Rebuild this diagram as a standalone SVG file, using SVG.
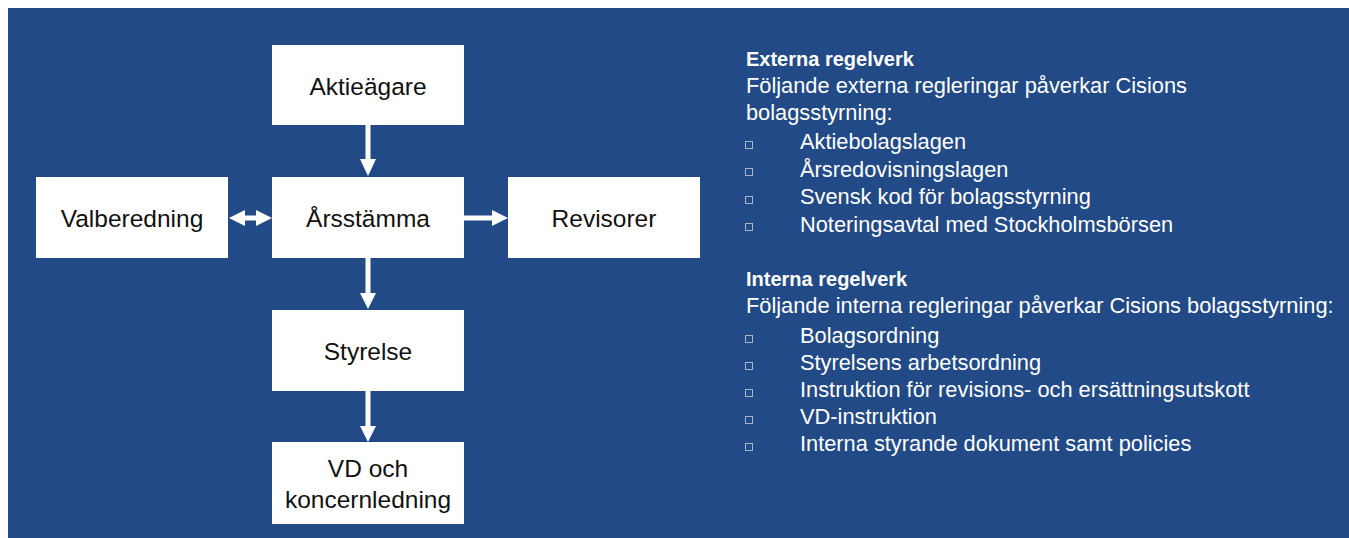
<svg xmlns="http://www.w3.org/2000/svg" width="1349" height="538" viewBox="0 0 1349 538">
  <style>
    .box { fill: #ffffff; }
    .lbl { font-family: "Liberation Sans", Arial, sans-serif; font-size: 24.5px; fill: #111111; text-anchor: middle; }
    .arrow { fill: #ffffff; }
    .hdr { font-family: "Liberation Sans", Arial, sans-serif; font-size: 20px; font-weight: bold; fill: #ffffff; }
    .txt { font-family: "Liberation Sans", Arial, sans-serif; font-size: 21.8px; fill: #ffffff; }
    .bul { fill: none; stroke: #aab5cc; stroke-width: 1; }
  </style>
  <rect x="8" y="8" width="1341" height="530" fill="#214a86"/>

  <g id="connectors">
    <!-- Aktieägare -> Årsstämma -->
    <rect class="arrow" x="365.5" y="125" width="5" height="35"/>
    <polygon class="arrow" points="360,159 376,159 368,176"/>
    <!-- Årsstämma -> Styrelse -->
    <rect class="arrow" x="365.5" y="258" width="5" height="36"/>
    <polygon class="arrow" points="360,293 376,293 368,309"/>
    <!-- Styrelse -> VD -->
    <rect class="arrow" x="365.5" y="391" width="5" height="36"/>
    <polygon class="arrow" points="360,426 376,426 368,442"/>
    <!-- Valberedning <-> Årsstämma -->
    <rect class="arrow" x="244" y="215.5" width="13" height="5"/>
    <polygon class="arrow" points="229,218 245,210 245,226"/>
    <polygon class="arrow" points="272,218 256,210 256,226"/>
    <!-- Årsstämma -> Revisorer -->
    <rect class="arrow" x="464" y="215.5" width="29" height="5"/>
    <polygon class="arrow" points="492,210 492,226 508,218"/>
  </g>

  <g id="node-aktieagare">
    <rect class="box" x="272" y="45" width="192" height="80"/>
    <text class="lbl" x="368" y="95">Aktieägare</text>
  </g>
  <g id="node-arsstamma">
    <rect class="box" x="272" y="177" width="192" height="81"/>
    <text class="lbl" x="368" y="227">Årsstämma</text>
  </g>
  <g id="node-valberedning">
    <rect class="box" x="36" y="177" width="192" height="81"/>
    <text class="lbl" x="132" y="227">Valberedning</text>
  </g>
  <g id="node-revisorer">
    <rect class="box" x="508" y="177" width="192" height="81"/>
    <text class="lbl" x="604" y="227">Revisorer</text>
  </g>
  <g id="node-styrelse">
    <rect class="box" x="272" y="310" width="192" height="81"/>
    <text class="lbl" x="368" y="360">Styrelse</text>
  </g>
  <g id="node-vd">
    <rect class="box" x="272" y="442" width="192" height="82"/>
    <text class="lbl" x="368" y="477">VD och</text>
    <text class="lbl" x="368" y="508">koncernledning</text>
  </g>

  <g id="text-externa">
    <text class="hdr" x="746" y="66">Externa regelverk</text>
    <text class="txt" x="746" y="93">Följande externa regleringar påverkar Cisions</text>
    <text class="txt" x="746" y="120">bolagsstyrning:</text>
    <rect class="bul" x="745.5" y="141.5" width="7" height="7"/>
    <text class="txt" x="800" y="149">Aktiebolagslagen</text>
    <rect class="bul" x="745.5" y="168.5" width="7" height="7"/>
    <text class="txt" x="800" y="176.5">Årsredovisningslagen</text>
    <rect class="bul" x="745.5" y="196.5" width="7" height="7"/>
    <text class="txt" x="800" y="204">Svensk kod för bolagsstyrning</text>
    <rect class="bul" x="745.5" y="223.5" width="7" height="7"/>
    <text class="txt" x="800" y="231.5">Noteringsavtal med Stockholmsbörsen</text>
  </g>

  <g id="text-interna">
    <text class="hdr" x="746" y="286">Interna regelverk</text>
    <text class="txt" x="746" y="313">Följande interna regleringar påverkar Cisions bolagsstyrning:</text>
    <rect class="bul" x="745.5" y="335.5" width="7" height="7"/>
    <text class="txt" x="800" y="342.5">Bolagsordning</text>
    <rect class="bul" x="745.5" y="362.5" width="7" height="7"/>
    <text class="txt" x="800" y="370">Styrelsens arbetsordning</text>
    <rect class="bul" x="745.5" y="389.5" width="7" height="7"/>
    <text class="txt" x="800" y="397">Instruktion för revisions- och ersättningsutskott</text>
    <rect class="bul" x="745.5" y="416.5" width="7" height="7"/>
    <text class="txt" x="800" y="424">VD-instruktion</text>
    <rect class="bul" x="745.5" y="443.5" width="7" height="7"/>
    <text class="txt" x="800" y="451">Interna styrande dokument samt policies</text>
  </g>
</svg>
